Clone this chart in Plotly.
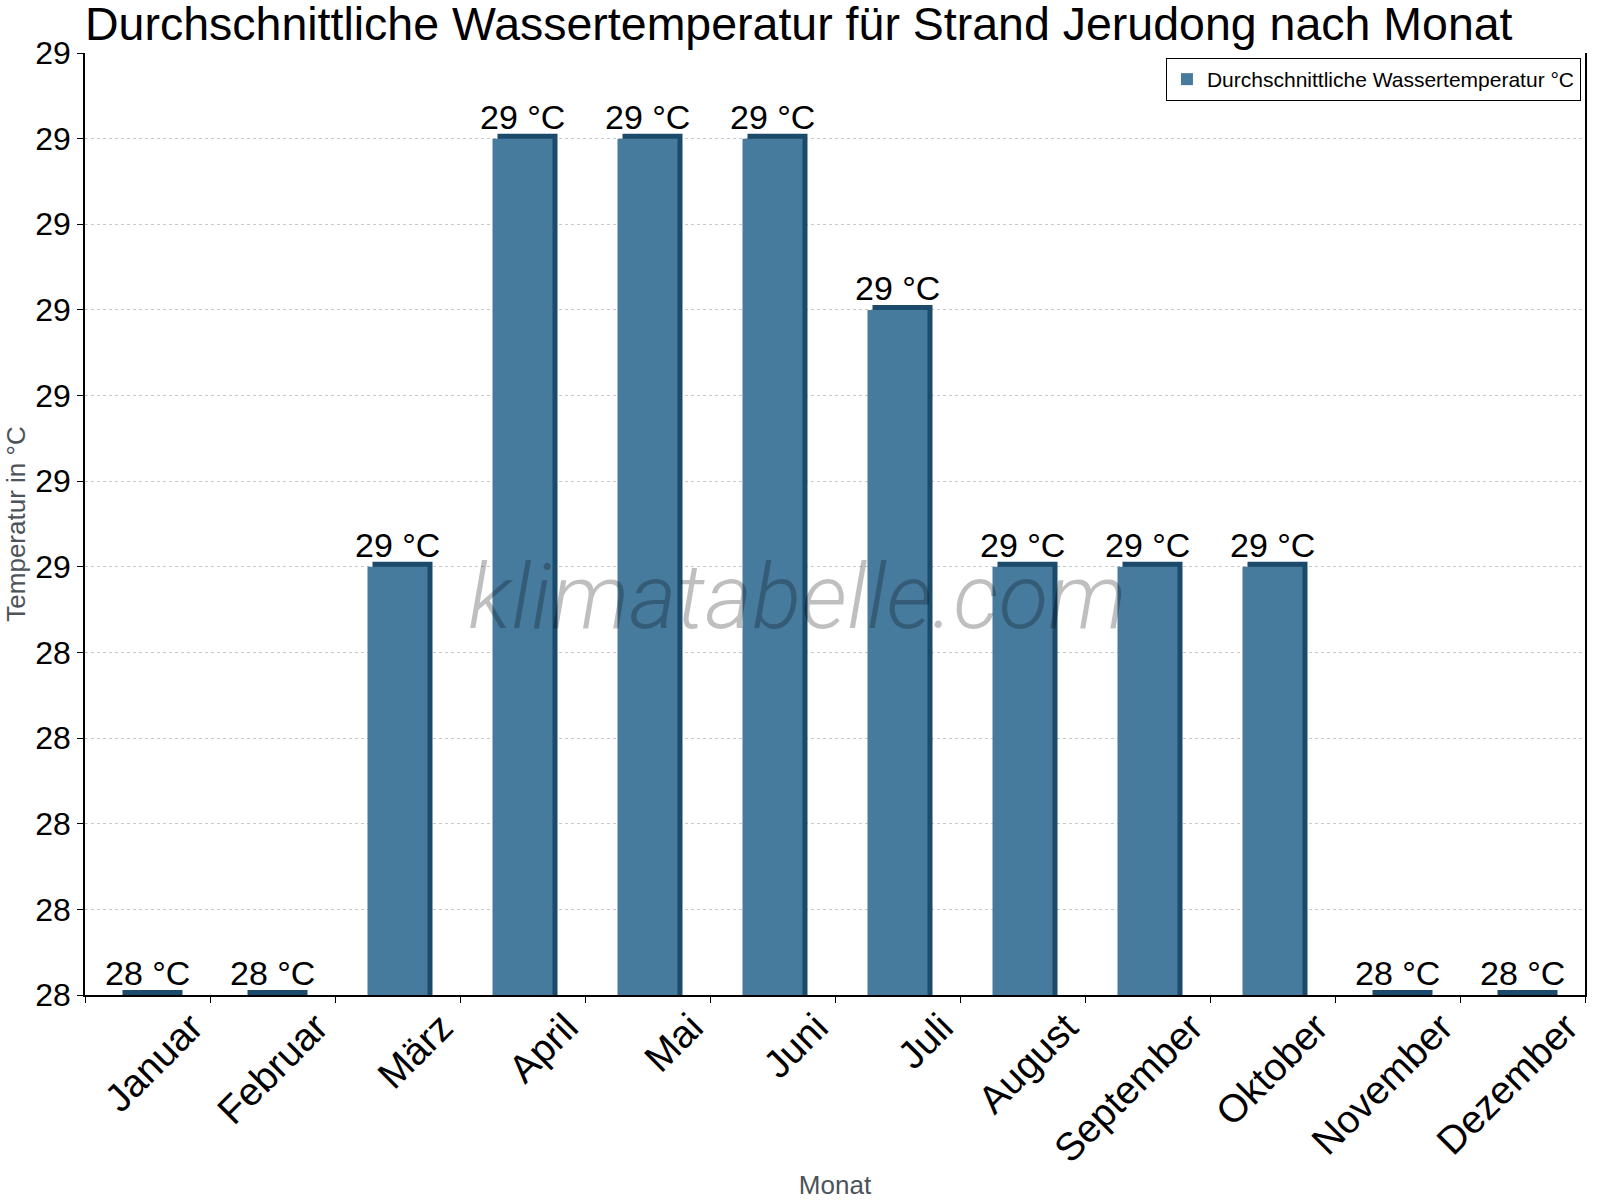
import plotly.graph_objects as go

months = ["Januar", "Februar", "März", "April", "Mai", "Juni", "Juli",
          "August", "September", "Oktober", "November", "Dezember"]
water_temp = [28.0, 28.0, 28.5, 29.0, 29.0, 29.0, 28.8, 28.5, 28.5, 28.5, 28.0, 28.0]
bar_labels = ["28 °C", "28 °C", "29 °C", "29 °C", "29 °C", "29 °C", "29 °C",
              "29 °C", "29 °C", "29 °C", "28 °C", "28 °C"]
y_tickvals = [28.0, 28.1, 28.2, 28.3, 28.4, 28.5, 28.6, 28.7, 28.8, 28.9, 29.0, 29.1]
y_ticktext = ["28", "28", "28", "28", "28", "29", "29", "29", "29", "29", "29", "29"]

Y_MIN, Y_MAX = 28.0, 29.1
PLOT_H = 942
DEPTH = 5 * (Y_MAX - Y_MIN) / PLOT_H  # 5 px depth for the pseudo-3D effect

FRONT = "#467b9e"
DARK = "#1b4a6b"
FONT = "Liberation Sans, Arial, sans-serif"

fig = go.Figure()
# dark back/side part of the pseudo-3D bar
fig.add_trace(go.Bar(
    x=months, y=[v + DEPTH for v in water_temp],
    width=0.48, offset=-0.20, marker=dict(color=DARK, line=dict(width=0)),
    showlegend=False, hoverinfo="skip",
))
# front face
fig.add_trace(go.Bar(
    x=months, y=water_temp, name="Durchschnittliche Wassertemperatur °C",
    width=0.48, offset=-0.24, marker=dict(color=FRONT, line=dict(width=0)),
))

annotations = []
for m, v, lab in zip(months, water_temp, bar_labels):
    annotations.append(dict(
        x=m, y=v, xref="x", yref="y", text=lab, showarrow=False,
        yanchor="bottom", yshift=1, font=dict(size=34, color="black", family=FONT),
    ))
annotations.append(dict(
    x=0.475, y=0.4225, xref="paper", yref="paper", text="klimatabelle.com",
    showarrow=False, xanchor="center", yanchor="middle",
    font=dict(size=91, color="rgba(0,0,0,0.25)", family="Roboto", style="italic", weight=300),
))

fig.update_layout(
    width=1600, height=1200,
    margin=dict(l=85, r=15, t=53, b=205, autoexpand=False),
    paper_bgcolor="white", plot_bgcolor="white",
    barmode="overlay",
    font=dict(family=FONT, color="black"),
    title=dict(
        text="Durchschnittliche Wassertemperatur für Strand Jerudong nach Monat",
        x=85 / 1600, xanchor="left", xref="container",
        y=0.994, yanchor="top", yref="container",
        font=dict(size=46.5, color="black", family=FONT),
        pad=dict(t=0, b=0, l=0, r=0),
    ),
    legend=dict(
        x=0.9973, y=0.9947, xanchor="right", yanchor="top",
        bgcolor="white", bordercolor="black", borderwidth=1,
        font=dict(size=21, color="black", family=FONT),
    ),
    annotations=annotations,
    xaxis=dict(
        type="category", range=[-0.5, 11.5],
        showline=True, linecolor="black", linewidth=1.5,
        ticks="outside", ticklen=6, tickcolor="black", tickson="boundaries",
        tickangle=-45, tickfont=dict(size=39, color="black", family=FONT),
        ticklabelshift=44, ticklabelstandoff=-8,
        showgrid=False,
        title=dict(text="Monat", font=dict(size=26, color="#4d535a", family=FONT), standoff=6),
    ),
    yaxis=dict(
        range=[Y_MIN, Y_MAX], tickvals=y_tickvals, ticktext=y_ticktext,
        showline=True, linecolor="black", linewidth=1.5, mirror=True,
        ticks="outside", ticklen=6, tickcolor="black",
        tickfont=dict(size=32, color="black", family=FONT),
        showgrid=True, gridcolor="#c8c8c8", griddash="dot", gridwidth=1,
        zeroline=False,
        title=dict(text="Temperatur in °C", font=dict(size=26, color="#4d535a", family=FONT), standoff=2),
    ),
)

fig.write_html("out.html")
